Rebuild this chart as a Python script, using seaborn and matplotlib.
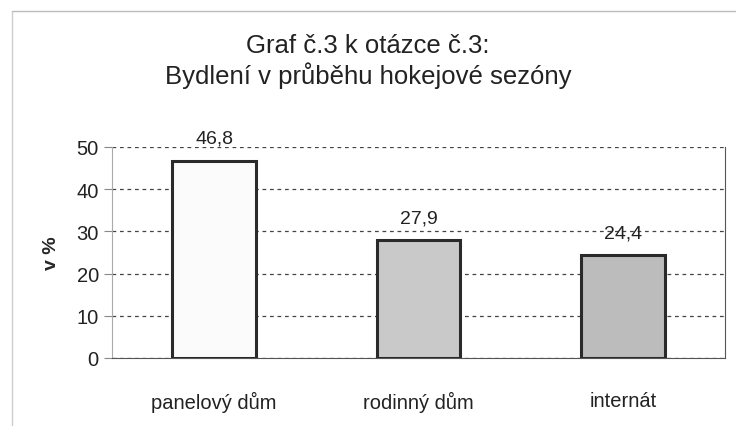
import matplotlib
matplotlib.use('Agg')
import matplotlib.pyplot as plt
import seaborn as sns
import pandas as pd

categories = ['panelový dům', 'rodinný dům', 'internát']
values = [46.8, 27.9, 24.4]
labels = ['46,8', '27,9', '24,4']
colors = ['#fbfbfb', '#c9c9c9', '#bcbcbc']

sns.set_style('white')
plt.rcParams['font.family'] = ['Liberation Sans', 'DejaVu Sans']

df = pd.DataFrame({'kat': categories, 'hodnota': values})

fig = plt.figure(figsize=(7.36, 4.27), dpi=100)
ax = fig.add_axes([112 / 736, 1 - 359 / 427, 613 / 736, 211 / 427])

sns.barplot(data=df, x='kat', y='hodnota', hue='kat', palette=colors,
            width=0.41, edgecolor='#2a2a2a', linewidth=2.2, legend=False,
            zorder=3, ax=ax)

for i, (v, t) in enumerate(zip(values, labels)):
    ax.text(i, v + 3.2, t, ha='center', va='bottom', fontsize=14, color='#222222')

ax.set_ylim(0, 50)
ax.set_yticks([0, 10, 20, 30, 40, 50])
ax.yaxis.grid(True, linestyle=(0, (3, 3)), color='#444444', linewidth=0.9, zorder=0)
ax.set_xlabel('')
ax.set_ylabel('v %', fontsize=14, fontweight='bold', labelpad=12)
ax.tick_params(axis='y', labelsize=14.5, length=6, width=0.8, left=True,
               colors='#888888', labelcolor='#222222')
ax.tick_params(axis='x', labelsize=14.5, pad=20, colors='#222222')
ax.spines['top'].set_visible(False)
ax.spines['left'].set_color('#aaaaaa')
ax.spines['bottom'].set_color('#555555')
ax.spines['right'].set_color('#555555')

fig.text(0.5, 1 - 46 / 427, 'Graf č.3 k otázce č.3:', ha='center', va='center',
         fontsize=18.5, color='#222222')
fig.text(0.5, 1 - 76 / 427, 'Bydlení v průběhu hokejové sezóny', ha='center',
         va='center', fontsize=18.5, color='#222222')

# outer frame
fig.add_artist(plt.Line2D([12 / 736, 12 / 736], [0.0, 1 - 12 / 427],
                          transform=fig.transFigure, color='#cccccc', lw=1))
fig.add_artist(plt.Line2D([12 / 736, 736 / 736], [1 - 12 / 427, 1 - 12 / 427],
                          transform=fig.transFigure, color='#bbbbbb', lw=1))

fig.savefig('out.png', dpi=100)
